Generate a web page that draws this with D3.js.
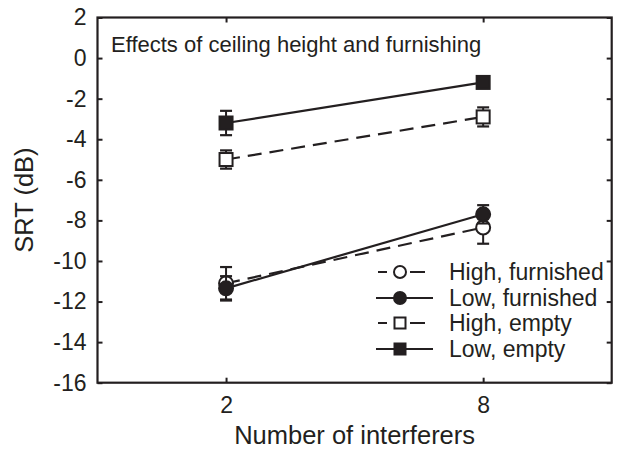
<!DOCTYPE html>
<html>
<head>
<meta charset="utf-8">
<script src="https://cdn.jsdelivr.net/npm/d3@7"></script>
<style>
  body { margin: 0; background: #fff; }
  text { font-family: "Liberation Sans", Arial, sans-serif; fill: #231f20; }
</style>
</head>
<body>
<svg id="chart" width="617" height="450"></svg>
<script>
// data
var interferers = [2, 8];
var yTicks = [2, 0, -2, -4, -6, -8, -10, -12, -14, -16];
var seriesNames = ["High, furnished", "Low, furnished", "High, empty", "Low, empty"];
var highFurnished = [-11.1, -8.35];
var highFurnishedErr = [0.8, 0.8];
var lowFurnished = [-11.35, -7.7];
var lowFurnishedErr = [0.6, 0.45];
var highEmpty = [-5.0, -2.9];
var highEmptyErr = [0.45, 0.47];
var lowEmpty = [-3.2, -1.2];
var lowEmptyErr = [0.6, 0.25];

var ink = "#231f20";
var svg = d3.select("#chart");
var margin = {left: 97.5, right: 5.3, top: 17.5, bottom: 67.3};
var W = 617, H = 450;

var x = d3.scaleLinear().domain([-1, 11]).range([margin.left, W - margin.right]);
var y = d3.scaleLinear().domain([-16, 2]).range([H - margin.bottom, margin.top]);

var series = [
  {name: seriesNames[0], vals: highFurnished, err: highFurnishedErr, shape: "circle", filled: false, dashed: true},
  {name: seriesNames[1], vals: lowFurnished, err: lowFurnishedErr, shape: "circle", filled: true, dashed: false},
  {name: seriesNames[2], vals: highEmpty, err: highEmptyErr, shape: "square", filled: false, dashed: true},
  {name: seriesNames[3], vals: lowEmpty, err: lowEmptyErr, shape: "square", filled: true, dashed: false}
];

function styleTicks(g, withText) {
  g.select(".domain").remove();
  g.selectAll("line").attr("stroke", ink).attr("stroke-width", 2);
  if (withText) g.selectAll("text").attr("font-size", 23).style("font-family", "Liberation Sans, Arial, sans-serif").attr("fill", ink);
}

// axes (inward ticks all around, like the original frame)
svg.append("g").attr("transform", "translate(" + margin.left + ",0)")
  .call(d3.axisLeft(y).tickValues(yTicks).tickSizeInner(-5).tickSizeOuter(0).tickPadding(11).tickFormat(function(d) { return String(d); }))
  .call(styleTicks, true);
svg.append("g").attr("transform", "translate(" + (W - margin.right) + ",0)")
  .call(d3.axisRight(y).tickValues(yTicks).tickSizeInner(-5).tickSizeOuter(0).tickFormat(""))
  .call(styleTicks, false);
svg.append("g").attr("transform", "translate(0," + (H - margin.bottom) + ")")
  .call(d3.axisBottom(x).tickValues(interferers).tickSizeInner(-5).tickSizeOuter(0).tickPadding(14))
  .call(styleTicks, true);
svg.append("g").attr("transform", "translate(0," + margin.top + ")")
  .call(d3.axisTop(x).tickValues(interferers).tickSizeInner(-5).tickSizeOuter(0).tickFormat(""))
  .call(styleTicks, false);

svg.append("rect")
  .attr("x", x(-1)).attr("y", y(2))
  .attr("width", x(11) - x(-1)).attr("height", y(-16) - y(2))
  .attr("fill", "none").attr("stroke", ink).attr("stroke-width", 2.2);

// axis titles
svg.append("text").attr("x", (x(-1) + x(11)) / 2).attr("y", 444)
  .attr("text-anchor", "middle").attr("font-size", 25.5).text("Number of interferers");
svg.append("text").attr("transform", "translate(33," + ((y(2) + y(-16)) / 2) + ") rotate(-90)")
  .attr("text-anchor", "middle").attr("font-size", 25.5).text("SRT (dB)");
svg.append("text").attr("x", 111).attr("y", 52).attr("font-size", 22)
  .text("Effects of ceiling height and furnishing");

function marker(g, s, cx, cy, size) {
  var fill = s.filled ? ink : "#fff";
  if (s.shape === "circle") {
    g.append("circle").attr("cx", cx).attr("cy", cy).attr("r", size / 2)
      .attr("fill", fill).attr("stroke", ink).attr("stroke-width", 2);
  } else {
    g.append("rect").attr("x", cx - size / 2).attr("y", cy - size / 2)
      .attr("width", size).attr("height", size)
      .attr("fill", fill).attr("stroke", ink).attr("stroke-width", 2);
  }
}

var line = d3.line().x(function(d, i) { return x(interferers[i]); }).y(function(d) { return y(d); });

// lines, then error bars, then markers (open symbols first)
var order = [0, 2, 1, 3];
order.forEach(function(k) {
  var s = series[k];
  var g = svg.append("g");
  g.append("path").datum(s.vals).attr("d", line)
    .attr("fill", "none").attr("stroke", ink).attr("stroke-width", 2.2)
    .attr("stroke-dasharray", s.dashed ? "14,8" : null);
  s.vals.forEach(function(v, i) {
    var cx = x(interferers[i]);
    var e = s.err[i];
    g.append("line").attr("x1", cx).attr("x2", cx).attr("y1", y(v + e)).attr("y2", y(v - e))
      .attr("stroke", ink).attr("stroke-width", 2);
    [v + e, v - e].forEach(function(b) {
      g.append("line").attr("x1", cx - 6).attr("x2", cx + 6).attr("y1", y(b)).attr("y2", y(b))
        .attr("stroke", ink).attr("stroke-width", 2.2);
    });
    marker(g, s, cx, y(v), s.shape === "circle" ? 14 : 13);
  });
});

// legend
var legY = [272, 298, 323, 349];
series.forEach(function(s, i) {
  var g = svg.append("g");
  var ly = legY[i];
  if (s.dashed) {
    g.append("line").attr("x1", 378).attr("x2", 387).attr("y1", ly).attr("y2", ly).attr("stroke", ink).attr("stroke-width", 2);
    g.append("line").attr("x1", 410).attr("x2", 425).attr("y1", ly).attr("y2", ly).attr("stroke", ink).attr("stroke-width", 2);
  } else {
    g.append("line").attr("x1", 376).attr("x2", 433).attr("y1", ly).attr("y2", ly).attr("stroke", ink).attr("stroke-width", 2);
  }
  marker(g, s, 400, ly, s.shape === "circle" ? 12 : 11);
  g.append("text").attr("x", 449).attr("y", ly + 8).attr("font-size", 23).text(s.name);
});
</script>
</body>
</html>
